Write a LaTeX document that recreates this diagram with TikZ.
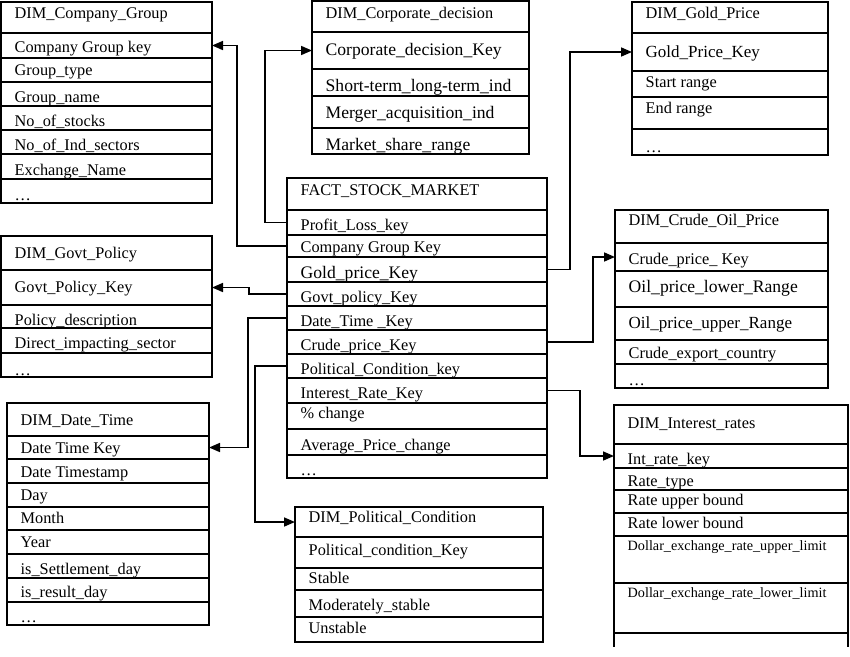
\documentclass[tikz,border=0pt]{standalone}
\usepackage{fontspec}
\setmainfont{Liberation Serif}
\usetikzlibrary{arrows.meta,calc}
\tikzset{
  rowbox/.style={draw, line width=1.5pt, inner sep=0pt, outer sep=0pt, anchor=north west},
  rowtext/.style={inner sep=0pt, anchor=base west, font=\fontsize{16.3}{19}\selectfont},
  bigtext/.style={font=\fontsize{17.6}{20}\selectfont},
  midtext/.style={font=\fontsize{17}{20}\selectfont},
  smalltext/.style={font=\fontsize{14.2}{17}\selectfont},
  conn/.style={line width=1.6pt, -{Triangle[length=11pt,width=9pt]}}
}
% [text style]{name}{x1}{x2}{ytop}{ybot}{baseline offset}{text}
\newcommand\trow[8][]{%
  \node[rowbox, minimum width={(#4-#3)*1pt}, minimum height={(#6-#5)*1pt}] (#2) at (#3,#5) {};
  \node[rowtext,#1] (#2-t) at (#3+13.5,#5+#7) {#8};
}
\begin{document}
\begin{tikzpicture}[x=1pt,y=-1pt]
\useasboundingbox (0,0) rectangle (850,656);

% DIM_Company_Group
\trow{cg-title}{1}{212}{2}{33}{16}{DIM\_Company\_Group}
\trow{cg-key}{1}{212}{33}{58}{19}{Company Group key}
\trow{cg-type}{1}{212}{58}{82}{17}{Group\_type}
\trow{cg-name}{1}{212}{82}{106}{20}{Group\_name}
\trow{cg-stocks}{1}{212}{106}{130}{20}{No\_of\_stocks}
\trow{cg-sectors}{1}{212}{130}{154}{20}{No\_of\_Ind\_sectors}
\trow{cg-exch}{1}{212}{154}{179}{21}{Exchange\_Name}
\trow{cg-more}{1}{212}{179}{203}{21}{\ldots}

% DIM_Corporate_decision
\trow{corp-title}{312}{529}{1}{32}{17}{DIM\_Corporate\_decision}
\trow[bigtext]{corp-key}{312}{529}{32}{69}{23}{Corporate\_decision\_Key}
\trow[bigtext]{corp-term}{312}{529}{69}{96}{22}{Short-term\_long-term\_ind}
\trow[bigtext]{corp-merger}{312}{529}{96}{128}{22}{Merger\_acquisition\_ind}
\trow[bigtext]{corp-market}{312}{529}{128}{154}{22}{Market\_share\_range}

% DIM_Gold_Price
\trow{gold-title}{632}{828}{2}{33}{16}{DIM\_Gold\_Price}
\trow[midtext]{gold-key}{632}{828}{33}{71}{24}{Gold\_Price\_Key}
\trow{gold-start}{632}{828}{71}{97}{16}{Start range}
\trow{gold-end}{632}{828}{97}{129}{16}{End range}
\trow{gold-more}{632}{828}{129}{155}{23}{\ldots}

% FACT_STOCK_MARKET
\trow{fact-title}{287}{547}{178}{210}{17}{FACT\_STOCK\_MARKET}
\trow{fact-pl}{287}{547}{210}{235}{20}{Profit\_Loss\_key}
\trow{fact-cg}{287}{547}{235}{257}{17}{Company Group Key}
\trow[bigtext]{fact-gold}{287}{547}{257}{282}{21}{Gold\_price\_Key}
\trow{fact-govt}{287}{547}{282}{306}{20}{Govt\_policy\_Key}
\trow{fact-date}{287}{547}{306}{330}{20}{Date\_Time \_Key}
\trow{fact-crude}{287}{547}{330}{354}{20}{Crude\_price\_Key}
\trow{fact-pol}{287}{547}{354}{378}{20}{Political\_Condition\_key}
\trow{fact-int}{287}{547}{378}{403}{20}{Interest\_Rate\_Key}
\trow{fact-pct}{287}{547}{403}{429}{15}{\% change}
\trow{fact-avg}{287}{547}{429}{455}{21}{Average\_Price\_change}
\trow{fact-more}{287}{547}{455}{478}{20}{\ldots}

% DIM_Govt_Policy
\trow{govt-title}{1}{212}{236}{270}{22}{DIM\_Govt\_Policy}
\trow{govt-key}{1}{212}{270}{305}{22}{Govt\_Policy\_Key}
\trow{govt-desc}{1}{212}{305}{328}{20}{Policy\_description}
\trow{govt-sector}{1}{212}{328}{353}{20}{Direct\_impacting\_sector}
\trow{govt-more}{1}{212}{353}{377}{22}{\ldots}

% DIM_Crude_Oil_Price
\trow{crude-title}{615}{828}{210}{243}{15}{DIM\_Crude\_Oil\_Price}
\trow{crude-key}{615}{828}{243}{271}{21}{Crude\_price\_\ Key}
\trow[bigtext]{crude-lower}{615}{828}{271}{307}{21}{Oil\_price\_lower\_Range}
\trow[midtext]{crude-upper}{615}{828}{307}{340}{21}{Oil\_price\_upper\_Range}
\trow{crude-export}{615}{828}{340}{364}{18}{Crude\_export\_country}
\trow{crude-more}{615}{828}{364}{388}{21}{\ldots}

% DIM_Date_Time
\trow{date-title}{7}{209}{403}{436}{22}{DIM\_Date\_Time}
\trow{date-key}{7}{209}{436}{459}{17}{Date Time Key}
\trow{date-stamp}{7}{209}{459}{483}{18}{Date Timestamp}
\trow{date-day}{7}{209}{483}{507}{17}{Day}
\trow{date-month}{7}{209}{507}{530}{16}{Month}
\trow{date-year}{7}{209}{530}{554}{17}{Year}
\trow{date-settle}{7}{209}{554}{578}{20}{is\_Settlement\_day}
\trow{date-result}{7}{209}{578}{602}{19}{is\_result\_day}
\trow{date-more}{7}{209}{602}{625}{20}{\ldots}

% DIM_Political_Condition
\trow{pol-title}{295}{543}{507}{537}{15}{DIM\_Political\_Condition}
\trow{pol-key}{295}{543}{537}{568}{18}{Political\_condition\_Key}
\trow{pol-stable}{295}{543}{568}{590}{15}{Stable}
\trow{pol-mod}{295}{543}{590}{617}{20}{Moderately\_stable}
\trow{pol-unstable}{295}{543}{617}{642}{16}{Unstable}

% DIM_Interest_rates
\trow{int-title}{614}{848}{405}{444}{23}{DIM\_Interest\_rates}
\trow{int-key}{614}{848}{444}{468}{20}{Int\_rate\_key}
\trow{int-type}{614}{848}{468}{490}{18}{Rate\_type}
\trow{int-upper}{614}{848}{490}{513}{15}{Rate upper bound}
\trow{int-lower}{614}{848}{513}{536}{15}{Rate lower bound}
\trow[smalltext]{int-dup}{614}{848}{536}{583}{14}{Dollar\_exchange\_rate\_upper\_limit}
\trow[smalltext]{int-dlow}{614}{848}{583}{633}{14}{Dollar\_exchange\_rate\_lower\_limit}
\node[rowbox, draw=none, minimum width=234pt, minimum height=14pt] (int-end) at (614,633) {};
\draw[line width=1.5pt] (int-end.north west) -- (int-end.south west)
  (int-end.north east) -- (int-end.south east);

% connectors
\draw[conn] (fact-pl.west) -- ++(-22,0) |- (corp-key.west);
\draw[conn] (fact-cg.west) -- ++(-50,0) |- (cg-key.east);
\draw[conn] (fact-gold.east) -- ++(23,0) |- (gold-key.west);
\draw[conn] (fact-govt.west) -- ++(-38,0) |- (govt-key.east);
\draw[conn] (fact-date.west) -- ++(-39,0) |- (date-key.east);
\draw[conn] (fact-crude.east) -- ++(46,0) |- (crude-key.west);
\draw[conn] (fact-pol.west) -- ++(-32,0) |- (pol-title.west);
\draw[conn] (fact-int.east) -- ++(33,0) |- (int-key.west);
\end{tikzpicture}
\end{document}
